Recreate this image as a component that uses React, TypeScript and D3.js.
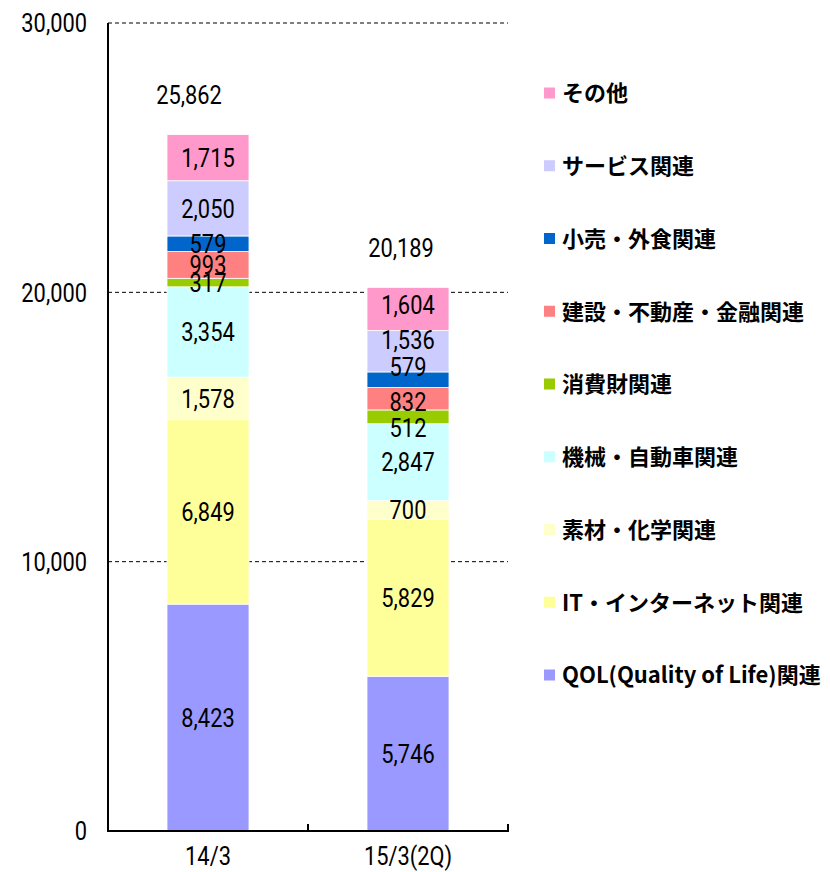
import React, { useEffect, useRef } from "react";
import * as d3 from "d3";

const categories = ["14/3", "15/3(2Q)"];

// bottom to top stacking order
const seriesNames = [
  "QOL(Quality of Life)関連",
  "IT・インターネット関連",
  "素材・化学関連",
  "機械・自動車関連",
  "消費財関連",
  "建設・不動産・金融関連",
  "小売・外食関連",
  "サービス関連",
  "その他",
];

const seriesColors = [
  "#9999FF",
  "#FFFF99",
  "#FFFFCC",
  "#CCFFFF",
  "#99CC00",
  "#FF8080",
  "#0066CC",
  "#CCCCFF",
  "#FF99CC",
];

const values1403 = [8423, 6849, 1578, 3354, 317, 993, 579, 2050, 1715];
const values1503 = [5746, 5829, 700, 2847, 512, 832, 579, 1536, 1604];

const totals = [25862, 20189];

const yTicks = [0, 10000, 20000, 30000];

const numFont = "Roboto, 'Noto Sans', sans-serif";
const jpFont = "'Noto Sans CJK JP', sans-serif";

// squeeze numeric text horizontally to mimic a narrow gothic face
const SX = 0.84;

export default function App() {
  const svgRef = useRef<SVGSVGElement>(null);

  useEffect(() => {
    if (!svgRef.current) return;
    const svg = d3.select(svgRef.current);
    svg.selectAll("*").remove();

    const rows = categories.map((c, i) => {
      const vals = i === 0 ? values1403 : values1503;
      const r: any = { cat: c };
      seriesNames.forEach((s, j) => (r[s] = vals[j]));
      return r;
    });

    const stacked = d3.stack().keys(seriesNames)(rows);

    const x = d3
      .scaleBand()
      .domain(categories)
      .range([108, 508])
      .paddingInner(0.59)
      .paddingOuter(0.295);

    const y = d3.scaleLinear().domain([0, 30000]).range([831, 23]);

    const numText = (sel: any) =>
      sel
        .attr("dy", "0.36em")
        .attr("fill", "#000")
        .style("font-family", numFont)
        .style("font-weight", 400)
        .style("font-size", "26px");

    // gridlines
    svg
      .append("g")
      .selectAll("line")
      .data(yTicks.filter((t) => t > 0))
      .join("line")
      .attr("x1", 108)
      .attr("x2", 508)
      .attr("y1", (d) => y(d))
      .attr("y2", (d) => y(d))
      .attr("stroke", "#000")
      .attr("stroke-width", 1)
      .attr("stroke-dasharray", "4,3");

    // bars
    svg
      .append("g")
      .selectAll("g")
      .data(stacked)
      .join("g")
      .attr("fill", (d, i) => seriesColors[i])
      .selectAll("rect")
      .data((d) => d.map((p) => ({ p, cat: (p.data as any).cat })))
      .join("rect")
      .attr("x", (d) => x(d.cat) || 0)
      .attr("width", x.bandwidth())
      .attr("y", (d) => y(d.p[1]))
      .attr("height", (d) => y(d.p[0]) - y(d.p[1]))
      .attr("stroke", "#fff")
      .attr("stroke-width", 0.8);

    // small manual nudges for crowded labels in the second bar (series index -> px)
    const nudge2: Record<number, number> = { 4: 11, 5: 3, 6: -13, 7: -12, 8: -4 };

    const labels = stacked.flatMap((s, si) =>
      s.map((p, ci) => ({ p, cat: (p.data as any).cat, si, ci }))
    );

    // value labels, drawn above every bar segment
    svg
      .append("g")
      .selectAll("text")
      .data(labels)
      .join("text")
      .attr("transform", (d) => {
        const cx = (x(d.cat) || 0) + x.bandwidth() / 2;
        const cy = (y(d.p[0]) + y(d.p[1])) / 2 + (d.ci === 1 ? nudge2[d.si] || 0 : 0);
        return `translate(${cx},${cy}) scale(${SX},1)`;
      })
      .attr("text-anchor", "middle")
      .call(numText)
      .text((d) => d3.format(",")(d.p[1] - d.p[0]));

    // totals
    const top = stacked[stacked.length - 1];
    svg
      .append("g")
      .selectAll("text")
      .data(categories)
      .join("text")
      .attr("transform", (d, i) => {
        const cx = (x(d) || 0) + x.bandwidth() / 2 - (i === 0 ? 19 : 7);
        return `translate(${cx},${y(top[i][1]) - 40}) scale(${SX},1)`;
      })
      .attr("text-anchor", "middle")
      .call(numText)
      .text((d, i) => d3.format(",")(totals[i]));

    // axes
    svg
      .append("line")
      .attr("x1", 108)
      .attr("x2", 108)
      .attr("y1", y(30000))
      .attr("y2", y(0))
      .attr("stroke", "#000")
      .attr("stroke-width", 2);

    svg
      .append("line")
      .attr("x1", 107)
      .attr("x2", 509)
      .attr("y1", y(0))
      .attr("y2", y(0))
      .attr("stroke", "#000")
      .attr("stroke-width", 2);

    const step = x.step();
    const bounds = [
      x.range()[0],
      ...categories.slice(1).map((c) => (x(c) || 0) - (step * x.paddingInner()) / 2),
      x.range()[1],
    ];
    svg
      .append("g")
      .selectAll("line")
      .data(bounds)
      .join("line")
      .attr("x1", (d) => d)
      .attr("x2", (d) => d)
      .attr("y1", y(0))
      .attr("y2", y(0) - 7)
      .attr("stroke", "#000")
      .attr("stroke-width", 2);

    svg
      .append("g")
      .selectAll("text")
      .data(yTicks)
      .join("text")
      .attr("transform", (d) => `translate(87,${y(d)}) scale(${SX},1)`)
      .attr("text-anchor", "end")
      .call(numText)
      .text((d) => d3.format(",")(d));

    svg
      .append("g")
      .selectAll("text")
      .data(categories)
      .join("text")
      .attr("transform", (d) => `translate(${(x(d) || 0) + x.bandwidth() / 2},856) scale(${SX},1)`)
      .attr("text-anchor", "middle")
      .call(numText)
      .text((d) => d);

    // legend (top entry = last series)
    const legendItems = seriesNames.map((s, i) => ({ s, c: seriesColors[i] })).reverse();
    const lg = svg
      .append("g")
      .selectAll("g")
      .data(legendItems)
      .join("g")
      .attr("transform", (d, i) => `translate(544,${93.5 + i * 72.75})`);

    lg.append("rect")
      .attr("x", 0)
      .attr("y", -6)
      .attr("width", 11)
      .attr("height", 11)
      .attr("fill", (d) => d.c);

    lg.append("text")
      .attr("x", 18)
      .attr("y", 0)
      .attr("dy", "0.36em")
      .style("font-family", jpFont)
      .style("font-weight", "bold")
      .style("font-size", "22px")
      .text((d) => d.s);
  }, []);

  return (
    <svg
      ref={svgRef}
      width={830}
      height={872}
      style={{ position: "absolute", left: 0, top: 0, background: "#fff" }}
    />
  );
}
